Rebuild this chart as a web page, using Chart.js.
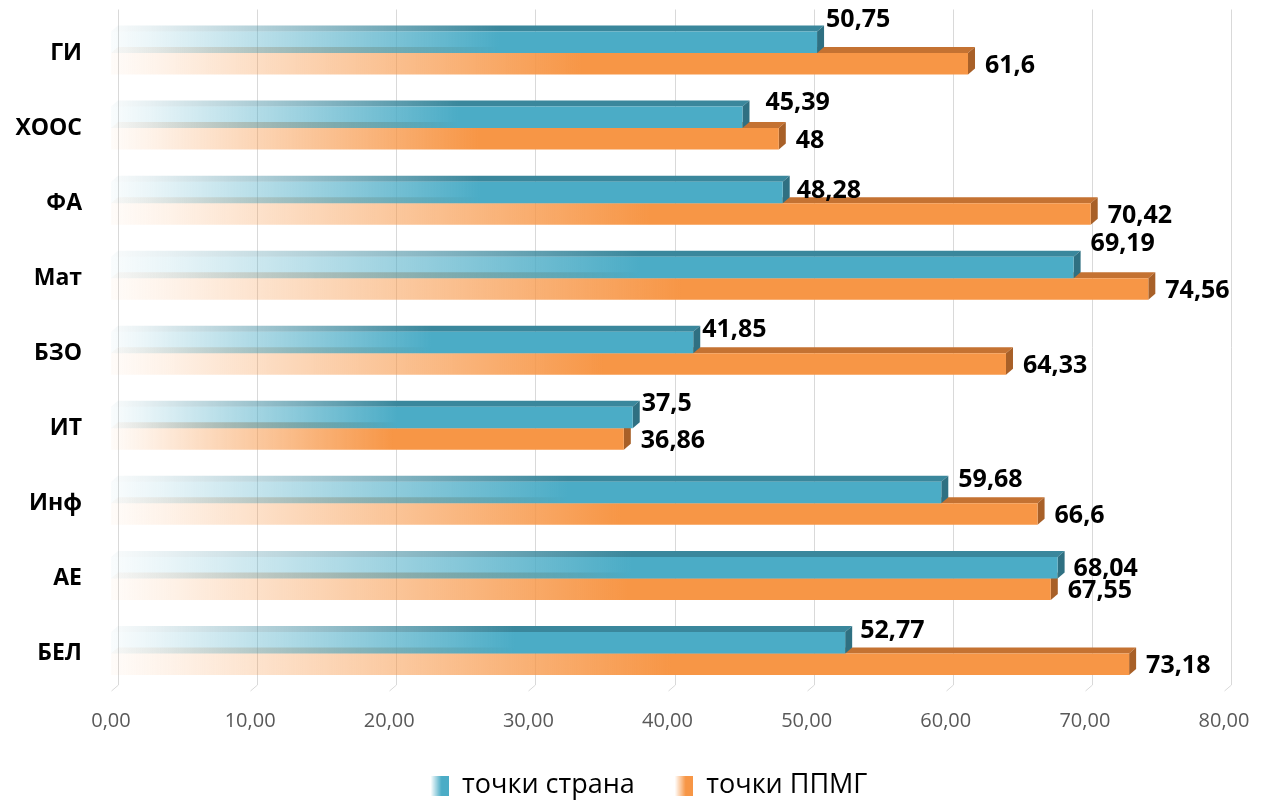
<!DOCTYPE html>
<html>
<head>
<meta charset="utf-8">
<script src="https://cdn.jsdelivr.net/npm/chart.js@4"></script>
<style>
  html, body { margin: 0; padding: 0; background: #fff; }
  #wrap { width: 1265px; height: 803px; }
</style>
</head>
<body>
<div id="wrap"><canvas id="barChart"></canvas></div>
<script>
// categories and series
const categories = ["ГИ", "ХООС", "ФА", "Мат", "БЗО", "ИТ", "Инф", "АЕ", "БЕЛ"];
const strana = [50.75, 45.39, 48.28, 69.19, 41.85, 37.5, 59.68, 68.04, 52.77];
const ppmg = [61.6, 48, 70.42, 74.56, 64.33, 36.86, 66.6, 67.55, 73.18];
const xTicks = [0, 10, 20, 30, 40, 50, 60, 70, 80];

// label nudges for the blue series (Excel moved some of them around)
const blueLabelDx = [9, 23, 14, 17, 9, 9, 17, 16, 15];
const blueLabelDy = [-12, -4, 9, -13, -2, -3, -2, 12, -1];

const BLUE = "75,172,198";
const ORANGE = "247,150,70";
const faces = [
  { top: "58,135,156", end: "47,112,130" },
  { top: "196,114,50", end: "168,96,40" }
];
const DX = 7, DY = 6;

function fade(ctx, x0, x1, rgb) {
  const g = ctx.createLinearGradient(x0, 0, x1, 0);
  g.addColorStop(0, "rgba(" + rgb + ",0.03)");
  g.addColorStop(0.06, "rgba(" + rgb + ",0.12)");
  g.addColorStop(0.55, "rgba(" + rgb + ",1)");
  g.addColorStop(1, "rgba(" + rgb + ",1)");
  return g;
}

function frontFill(rgb) {
  return function (c) {
    const chart = c.chart;
    if (!chart.chartArea || c.raw === undefined) return "rgb(" + rgb + ")";
    const sx = chart.scales.x;
    return fade(chart.ctx, sx.getPixelForValue(0), sx.getPixelForValue(c.raw), rgb);
  };
}

function legendIcon(rgb) {
  const cv = document.createElement("canvas");
  cv.width = 18; cv.height = 20;
  const c = cv.getContext("2d");
  const g = c.createLinearGradient(0, 0, 18, 0);
  g.addColorStop(0, "rgba(" + rgb + ",0)");
  g.addColorStop(0.6, "rgba(" + rgb + ",1)");
  g.addColorStop(1, "rgba(" + rgb + ",1)");
  c.fillStyle = g;
  c.fillRect(0, 0, 18, 20);
  return cv;
}
const legendIcons = [legendIcon(BLUE), legendIcon(ORANGE)];

const fmt = v => String(v).replace(".", ",");

// back wall grid lines with the little 3D step at the floor
const gridPlugin = {
  id: "grid3d",
  afterLayout(chart) {
    // the legend in the original sits a bit right of centre
    chart.legend.left += 37;
    chart.legend.right += 37;
  },
  beforeDatasetsDraw(chart) {
    const ctx = chart.ctx, a = chart.chartArea, sx = chart.scales.x;
    ctx.save();
    ctx.strokeStyle = "#d9d9d9";
    ctx.lineWidth = 1;
    xTicks.forEach(v => {
      const px = Math.round(sx.getPixelForValue(v)) + 0.5;
      ctx.beginPath();
      ctx.moveTo(px + DX, a.top - 6);
      ctx.lineTo(px + DX, a.bottom - DY);
      ctx.lineTo(px, a.bottom);
      ctx.stroke();
    });
    ctx.restore();
  }
};

// top and end faces of each bar
const facePlugin = {
  id: "faces3d",
  beforeDatasetDraw(chart, args) {
    const ctx = chart.ctx, f = faces[args.index];
    ctx.save();
    args.meta.data.forEach(bar => {
      const p = bar.getProps(["x", "y", "base", "height"], true);
      const t = p.y - p.height / 2, b = p.y + p.height / 2;
      ctx.fillStyle = fade(ctx, p.base, p.x, f.top);
      ctx.beginPath();
      ctx.moveTo(p.base, t);
      ctx.lineTo(p.x, t);
      ctx.lineTo(p.x + DX, t - DY);
      ctx.lineTo(p.base + DX, t - DY);
      ctx.closePath();
      ctx.fill();
      ctx.fillStyle = "rgb(" + f.end + ")";
      ctx.beginPath();
      ctx.moveTo(p.x, t);
      ctx.lineTo(p.x + DX, t - DY);
      ctx.lineTo(p.x + DX, b - DY);
      ctx.lineTo(p.x, b);
      ctx.closePath();
      ctx.fill();
    });
    ctx.restore();
  }
};

const labelPlugin = {
  id: "valueLabels",
  afterDatasetsDraw(chart) {
    const ctx = chart.ctx;
    ctx.save();
    ctx.font = "bold 25px 'Open Sans'";
    ctx.fillStyle = "#000";
    ctx.textBaseline = "middle";
    ctx.textAlign = "left";
    chart.getDatasetMeta(0).data.forEach((bar, i) => {
      const p = bar.getProps(["x", "y", "height"], true);
      ctx.fillText(fmt(strana[i]), p.x + blueLabelDx[i], p.y - p.height / 2 + blueLabelDy[i]);
    });
    chart.getDatasetMeta(1).data.forEach((bar, i) => {
      const p = bar.getProps(["x", "y"], true);
      ctx.fillText(fmt(ppmg[i]), p.x + 17, p.y + 2);
    });
    ctx.restore();
  }
};

const ctxBar = document.getElementById("barChart");
new Chart(ctxBar, {
  type: "bar",
  data: {
    labels: categories,
    datasets: [
      {
        label: "точки страна",
        data: strana,
        backgroundColor: frontFill(BLUE),
        borderWidth: 0,
        categoryPercentage: 0.573,
        barPercentage: 1.0
      },
      {
        label: "точки ППМГ",
        data: ppmg,
        backgroundColor: frontFill(ORANGE),
        borderWidth: 0,
        categoryPercentage: 0.573,
        barPercentage: 1.0
      }
    ]
  },
  options: {
    indexAxis: "y",
    responsive: true,
    maintainAspectRatio: false,
    animation: false,
    layout: { padding: { top: 15.5, right: 41, left: 0, bottom: -6 } },
    scales: {
      x: {
        min: 0,
        max: 80,
        afterBuildTicks: s => { s.ticks = xTicks.map(v => ({ value: v })); },
        afterFit: s => { s.height = 41; s.paddingLeft = 0; s.paddingRight = 0; },
        grid: { display: false, drawTicks: false },
        border: { display: false },
        ticks: {
          padding: 18,
          color: "#595959",
          font: { family: "'Open Sans'", size: 20 },
          callback: v => Number(v).toFixed(2).replace(".", ",")
        }
      },
      y: {
        afterFit: s => { s.width = 111; s.paddingTop = 0; s.paddingBottom = 0; },
        grid: { display: false, drawTicks: false },
        border: { display: false },
        ticks: {
          padding: 29,
          color: "#000",
          font: { family: "'Open Sans'", size: 23, weight: "bold" }
        }
      }
    },
    plugins: {
      tooltip: { enabled: false },
      legend: {
        position: "bottom",
        labels: {
          usePointStyle: true,
          boxWidth: 18,
          boxHeight: 20,
          padding: 40,
          color: "#000",
          font: { family: "'Open Sans'", size: 27 },
          generateLabels: chart => chart.data.datasets.map((ds, i) => ({
            text: ds.label,
            pointStyle: legendIcons[i],
            fillStyle: "transparent",
            strokeStyle: "transparent",
            lineWidth: 0,
            hidden: false,
            datasetIndex: i,
            fontColor: "#000"
          }))
        }
      }
    }
  },
  plugins: [gridPlugin, facePlugin, labelPlugin]
});
</script>
</body>
</html>
